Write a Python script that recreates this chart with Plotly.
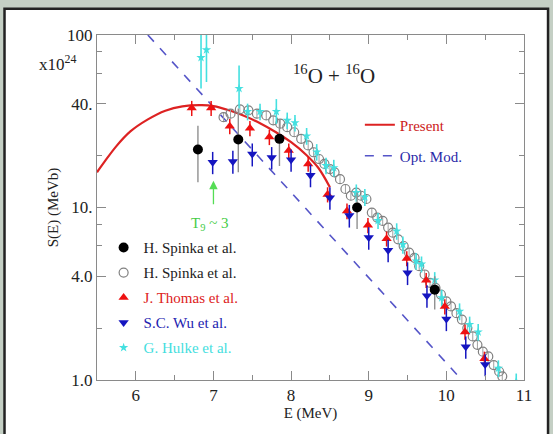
import math
import plotly.graph_objects as go

# ---------------- data ----------------
# Present (red solid curve)
E_present = [5.50, 5.60, 5.75, 5.93, 6.15, 6.38, 6.60, 6.85, 7.00, 7.20, 7.40, 7.60,
             7.80, 8.00, 8.20, 8.35, 8.50]
S_present = [16.0, 18.5, 22.7, 27.6, 32.3, 36.4, 38.6, 39.2, 38.7, 36.6, 33.9, 30.8,
             27.4, 23.9, 20.1, 17.0, 13.1]

# Optical model (blue dashed)
E_opt = [6.155, 10.20]
S_opt = [100.0, 1.0]

# H. Spinka et al. (filled black circles)
E_spk = [6.80, 7.32, 7.85, 8.85, 9.85]
S_spk = [21.7, 24.8, 25.0, 10.0, 3.34]
S_spk_up = [8.1, 12.7, 7.6, 2.2, 0.66]
S_spk_dn = [7.7, 8.8, 7.6, 2.5, 0.78]

# H. Spinka et al. (open circles)
E_spo = [7.13, 7.22, 7.34, 7.45, 7.56, 7.68, 7.77, 7.86, 7.95, 8.04, 8.13, 8.22, 8.29,
         8.36, 8.43, 8.50, 8.56, 8.63, 8.70, 8.77, 8.84, 8.90, 8.97, 9.04, 9.11, 9.18,
         9.25, 9.31, 9.38, 9.45, 9.52, 9.59, 9.65, 9.72, 9.79, 9.86, 9.93, 10.00, 10.06,
         10.13, 10.20, 10.27, 10.34, 10.40, 10.47, 10.54, 10.61, 10.68, 10.72]
S_spo = [33.4, 35.0, 37.1, 36.6, 35.0, 34.2, 32.0, 30.6, 29.2, 27.3, 25.0, 22.9, 20.9,
         19.1, 17.9, 16.7, 16.0, 14.6, 12.8, 11.7, 12.2, 11.7, 11.2, 9.35, 8.74, 8.36,
         7.65, 7.15, 6.54, 5.98, 5.47, 5.11, 4.57, 4.09, 3.66, 3.42, 3.13, 2.86, 2.67,
         2.44, 2.24, 2.00, 1.79, 1.60, 1.46, 1.37, 1.22, 1.12, 1.05]
S_spo_err = [2.0, 2.1, 2.2, 2.2, 2.1, 2.0, 1.9, 1.8, 1.7, 1.6, 1.5, 1.4, 1.3,
             1.1, 1.1, 1.0, 1.0, 0.9, 0.8, 0.7, 0.7, 0.7, 0.7, 0.56, 0.52, 0.5,
             0.46, 0.43, 0.39, 0.36, 0.33, 0.31, 0.27, 0.25, 0.22, 0.21, 0.19, 0.17, 0.16,
             0.15, 0.13, 0.12, 0.11, 0.10, 0.09, 0.08, 0.07, 0.07, 0.06]

# J. Thomas et al. (red up triangles)
E_tho = [6.72, 6.97, 7.21, 7.47, 7.72, 7.97, 8.22, 8.47, 8.72, 8.99, 9.23, 9.49, 9.74,
         9.98, 10.24, 10.49]
S_tho = [37.7, 37.7, 29.6, 28.8, 25.6, 21.4, 17.9, 11.9, 9.55, 7.88, 6.6, 5.07, 3.79,
         2.67, 1.90, 1.33]
S_tho_err = [3.8, 3.8, 3.0, 2.9, 2.6, 2.1, 1.8, 1.2, 1.0, 0.8, 0.66, 0.5, 0.38,
             0.27, 0.19, 0.13]

# S.C. Wu et al. (blue down triangles)
E_wu = [6.99, 7.25, 7.50, 7.75, 8.00, 8.25, 8.50, 8.75, 9.00, 9.25, 9.50, 9.75, 10.00,
        10.25, 10.50]
S_wu = [18.3, 18.5, 20.4, 19.5, 18.9, 15.4, 11.4, 9.0, 6.69, 5.66, 4.18, 3.08, 2.26,
        1.56, 1.23]
S_wu_err = [2.7, 2.8, 3.1, 2.9, 2.8, 2.3, 1.7, 1.35, 1.0, 0.85, 0.63, 0.46, 0.34,
            0.23, 0.18]

# G. Hulke et al. (cyan)
E_hul = [6.84, 6.91, 7.33, 7.44, 7.60, 7.81, 7.95, 8.05, 8.20, 8.33, 8.45, 8.55, 8.84,
         8.95, 9.12, 9.36, 9.44, 9.61, 9.68, 9.85, 9.94, 10.17, 10.30, 10.41, 10.67, 10.90]
S_hul = [74.0, 82.0, 49.0, 36.0, 36.0, 36.0, 32.0, 31.0, 26.0, 21.0, 17.5, 17.0, 12.2,
         11.5, 8.4, 7.3, 6.1, 4.9, 4.7, 3.8, 3.0, 2.5, 2.1, 1.9, 1.17, 0.98]
S_hul_up = [76.0, 68.0, 17.5, 4.0, 4.0, 6.5, 3.5, 3.4, 2.9, 2.3, 1.9, 1.9, 1.4,
            1.3, 0.9, 0.8, 0.7, 0.55, 0.5, 0.42, 0.33, 0.28, 0.23, 0.21, 0.13, 0.11]
S_hul_dn = [25.0, 28.6, 11.5, 4.0, 4.0, 5.5, 3.5, 3.4, 2.9, 2.3, 1.9, 1.9, 1.4,
            1.3, 0.9, 0.8, 0.7, 0.55, 0.5, 0.42, 0.33, 0.28, 0.23, 0.21, 0.13, 0.11]

# axes ticks
x_major = [6, 7, 8, 9, 10, 11]
x_minor = [6.5, 7.5, 8.5, 9.5, 10.5]
y_major = [1, 4, 10, 40, 100]
y_major_text = ["1.0", "4.0", "10.", "40.", "100"]
y_minor = [2, 6, 8, 20, 60, 80]

# arrow annotation: T9 ~ 3
E_T9 = 7.0
S_T9 = 14.3
E_T9_text = 6.95
S_T9_text = 8.0

SERIF = "Liberation Serif"
RED = "#dd2222"
BLUE = "#1515c0"
CYAN = "#44e0e0"

fig = go.Figure()

fig.add_trace(go.Scatter(
    x=E_opt, y=S_opt, mode="lines", legend="legend2", legendgroup="opt", legendrank=2,
    name="<span style='color:#2a2aa8'>Opt. Mod.</span>",
    line=dict(color="#5555c8", width=1.6, dash="dash")))
fig.add_trace(go.Scatter(
    x=E_present, y=S_present, mode="lines", legend="legend2", legendgroup="pres",
    legendrank=1, name="<span style='color:#cc2222'>Present</span>",
    line=dict(color=RED, width=2.2, shape="spline")))

fig.add_trace(go.Scatter(
    x=E_spo, y=S_spo, mode="markers", legendgroup="spo", legendrank=2,
    name="H. Spinka et al.",
    marker=dict(symbol="circle-open", size=9, color="#808080", line=dict(width=1.2)),
    error_y=dict(type="data", array=S_spo_err, color="#a0a0a0", thickness=1, width=0)))
fig.add_trace(go.Scatter(
    x=E_hul, y=S_hul, mode="markers", legendgroup="hul", legendrank=5,
    name="<span style='color:#44dede'>G. Hulke et al.</span>",
    marker=dict(symbol="star", size=7, color=CYAN),
    error_y=dict(type="data", symmetric=False, array=S_hul_up, arrayminus=S_hul_dn,
                 color=CYAN, thickness=1.6, width=0)))
fig.add_trace(go.Scatter(
    x=E_tho, y=S_tho, mode="markers", legendgroup="tho", legendrank=3,
    name="<span style='color:#dd2222'>J. Thomas et al.</span>",
    marker=dict(symbol="triangle-up", size=9, color="#ee1111"),
    error_y=dict(type="data", array=S_tho_err, color="#ee1111", thickness=1.5, width=0)))
fig.add_trace(go.Scatter(
    x=E_wu, y=S_wu, mode="markers", legendgroup="wu", legendrank=4,
    name="<span style='color:#2222b0'>S.C. Wu et al.</span>",
    marker=dict(symbol="triangle-down", size=9, color=BLUE),
    error_y=dict(type="data", array=S_wu_err, color=BLUE, thickness=1.5, width=0)))
fig.add_trace(go.Scatter(
    x=E_spk, y=S_spk, mode="markers", legendgroup="spk", legendrank=1,
    name="H. Spinka et al.",
    marker=dict(symbol="circle", size=10, color="black"),
    error_y=dict(type="data", symmetric=False, array=S_spk_up, arrayminus=S_spk_dn,
                 color="#909090", thickness=1.4, width=0)))

axis_common = dict(
    showline=True, linecolor="#8a8a8a", linewidth=1, mirror="ticks",
    ticks="inside", tickcolor="#8a8a8a", showgrid=False, zeroline=False,
    tickfont=dict(family=SERIF, size=17, color="#222"),
)

fig.update_xaxes(
    range=[5.5, 11], tickmode="array", tickvals=x_major, ticklen=9,
    minor=dict(tickmode="array", tickvals=x_minor, ticks="inside", ticklen=5,
               tickcolor="#8a8a8a"),
    title=dict(text="E (MeV)", font=dict(family=SERIF, size=15, color="#222"), standoff=3),
    **axis_common)
fig.update_yaxes(
    type="log", range=[0, 2], tickmode="array", tickvals=y_major, ticktext=y_major_text,
    ticklen=9,
    minor=dict(tickmode="array", tickvals=y_minor, ticks="inside", ticklen=5,
               tickcolor="#8a8a8a"),
    title=dict(text="S(E) (MeVb)", font=dict(family=SERIF, size=15, color="#222"),
               standoff=4),
    **axis_common)

fig.update_layout(
    width=553, height=434,
    margin=dict(l=97, r=29, t=35, b=54, autoexpand=False),
    paper_bgcolor="#c4cfc4", plot_bgcolor="white",
    font=dict(family=SERIF, color="#222"),
    showlegend=True,
    legend=dict(x=0.0155, y=0.431, xanchor="left", yanchor="top",
                bgcolor="rgba(0,0,0,0)", traceorder="grouped", tracegroupgap=2.5,
                font=dict(family=SERIF, size=15, color="#222")),
    legend2=dict(x=0.6156, y=0.787, xanchor="left", yanchor="top",
                 bgcolor="rgba(0,0,0,0)", traceorder="grouped", tracegroupgap=8.5,
                 font=dict(family=SERIF, size=15, color="#222")),
    shapes=[dict(type="rect", xref="paper", yref="paper",
                 x0=-0.2166, x1=1.0563, y0=-0.2, y1=1.0763,
                 line=dict(color="#222", width=2.5), fillcolor="white", layer="below")],
    annotations=[
        dict(text="x10<sup>24</sup>", xref="paper", yref="paper", x=-0.092, y=0.92,
             xanchor="center", yanchor="middle",
             showarrow=False, font=dict(family=SERIF, size=17, color="#222")),
        dict(text="<sup>16</sup>O + <sup>16</sup>O", xref="paper", yref="paper",
             x=0.5546, y=0.885, xanchor="center", yanchor="middle", showarrow=False,
             font=dict(family=SERIF, size=21, color="#222")),
        dict(text=" ", x=E_T9, y=math.log10(S_T9), xref="x", yref="y",
             showarrow=True, ax=0, ay=26, arrowhead=2, arrowsize=1.3, arrowwidth=1.3,
             arrowcolor="#55dd55", font=dict(size=2)),
        dict(text="T<sub>9</sub> ~ 3", x=E_T9_text, y=math.log10(S_T9_text),
             xref="x", yref="y",
             xanchor="center", yanchor="middle", showarrow=False,
             font=dict(family=SERIF, size=15, color="#44cc44")),
    ],
)

fig.write_html("out.html", config={"displayModeBar": False},
               post_script="document.body.style.margin='0';")
